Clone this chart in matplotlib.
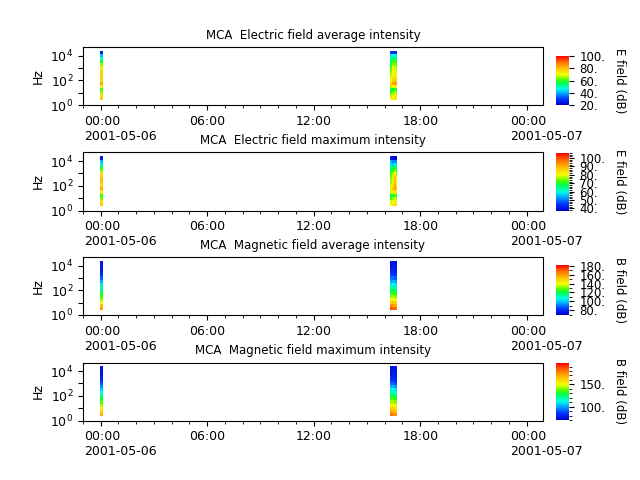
import numpy as np
import matplotlib
matplotlib.use("Agg")
import matplotlib.pyplot as plt
import matplotlib.dates as mdates
from matplotlib.colors import LinearSegmentedColormap
from matplotlib.ticker import FixedLocator, FuncFormatter, MultipleLocator
import matplotlib.transforms as mtransforms
from datetime import datetime

# ---------------- data ----------------
titles = ["MCA  Electric field average intensity",
          "MCA  Electric field maximum intensity",
          "MCA  Magnetic field average intensity",
          "MCA  Magnetic field maximum intensity"]
cb_labels = ["E field (dB)", "E field (dB)", "B field (dB)", "B field (dB)"]
cb_ranges = [(20, 100), (37, 106), (69, 182), (70, 198)]
cb_major = [20, 10, 20, 50]
cb_minor = [None, 2, 10, 10]

# channel centre frequencies (Hz), 16 log-spaced channels
freq_centres = [3.16, 5.62, 10.0, 17.8, 31.6, 56.2, 100.0, 178.0, 316.0, 562.0,
                1000.0, 1780.0, 3160.0, 5620.0, 10000.0, 17800.0]

# time bin edges of the two bursts
burst1_edges = [datetime(2001, 5, 5, 23, 56, 30), datetime(2001, 5, 6, 0, 2),
                datetime(2001, 5, 6, 0, 8)]
burst2_edges = [datetime(2001, 5, 6, 16, 18), datetime(2001, 5, 6, 16, 24, 30),
                datetime(2001, 5, 6, 16, 31), datetime(2001, 5, 6, 16, 37),
                datetime(2001, 5, 6, 16, 43)]

# intensities (dB), rows = channels low->high freq, cols = time bins
e_avg_b1 = [[78, 77], [75, 74], [66, 64], [58, 62], [72, 71], [84, 82], [75, 74],
            [77, 76], [77, 78], [76, 74], [72, 73], [66, 64], [56, 58], [50, 48],
            [42, 40], [25, 27]]
e_avg_b2 = [[70, 72, 74, 72], [66, 70, 72, 70], [60, 64, 66, 64], [56, 58, 60, 58],
            [66, 70, 72, 70], [76, 84, 86, 82], [70, 76, 78, 76], [68, 72, 74, 72],
            [66, 70, 72, 71], [64, 70, 70, 68], [62, 68, 68, 66], [58, 64, 64, 62],
            [54, 60, 60, 58], [50, 54, 55, 52], [44, 48, 46, 44], [30, 28, 26, 28]]
e_max_b1 = [[88, 87], [85, 84], [76, 74], [68, 72], [83, 82], [92, 90], [86, 85],
            [88, 87], [88, 89], [86, 85], [83, 84], [76, 74], [68, 70], [60, 58],
            [56, 54], [40, 42]]
e_max_b2 = [[80, 82, 84, 82], [78, 80, 82, 80], [72, 76, 78, 76], [68, 70, 72, 70],
            [78, 82, 84, 80], [82, 88, 92, 86], [78, 84, 90, 82], [76, 80, 88, 80],
            [76, 80, 88, 80], [74, 78, 86, 78], [72, 76, 80, 76], [68, 72, 74, 72],
            [64, 68, 68, 66], [58, 56, 60, 56], [54, 52, 50, 52], [42, 40, 38, 40]]
b_avg_b1 = [[160, 158], [150, 152], [142, 140], [134, 132], [128, 126], [122, 120],
            [116, 116], [110, 112], [104, 104], [96, 96], [88, 88], [82, 82],
            [78, 78], [76, 76], [76, 76], [76, 76]]
b_avg_b2 = [[172, 170, 168, 166], [162, 160, 158, 156], [150, 152, 150, 148],
            [140, 142, 140, 138], [132, 134, 132, 130], [124, 126, 124, 122],
            [118, 120, 118, 116], [112, 114, 112, 110], [104, 106, 104, 102],
            [96, 98, 96, 94], [90, 90, 88, 88], [84, 84, 82, 82], [80, 80, 78, 78],
            [76, 78, 76, 76], [74, 76, 74, 74], [74, 74, 74, 74]]
b_max_b1 = [[170, 168], [160, 162], [152, 150], [144, 142], [136, 134], [128, 128],
            [122, 120], [114, 114], [106, 106], [98, 98], [90, 90], [84, 84],
            [80, 80], [78, 78], [76, 76], [76, 76]]
b_max_b2 = [[180, 178, 176, 174], [170, 168, 166, 164], [160, 162, 158, 156],
            [150, 152, 148, 146], [142, 144, 140, 138], [134, 136, 132, 130],
            [126, 128, 124, 122], [118, 120, 116, 114], [110, 112, 108, 106],
            [100, 102, 98, 96], [92, 92, 90, 88], [86, 86, 84, 84], [82, 82, 80, 80],
            [78, 80, 78, 78], [76, 78, 76, 76], [76, 76, 76, 76]]
panels = [(e_avg_b1, e_avg_b2), (e_max_b1, e_max_b2),
          (b_avg_b1, b_avg_b2), (b_max_b1, b_max_b2)]

# ---------------- style ----------------
cmap = LinearSegmentedColormap.from_list("spec", [
    (0.00, (0.0, 0.0, 0.8)), (0.12, (0.0, 0.2, 1.0)), (0.25, (0.0, 0.7, 1.0)),
    (0.33, (0.0, 1.0, 0.9)), (0.45, (0.0, 1.0, 0.3)), (0.52, (0.3, 1.0, 0.0)),
    (0.62, (0.95, 1.0, 0.0)), (0.75, (1.0, 0.75, 0.0)), (0.87, (1.0, 0.45, 0.0)),
    (1.00, (1.0, 0.0, 0.0))])

FS = 9
fig = plt.figure(figsize=(6.4, 4.8), dpi=100)
W, H = 640.0, 480.0
ax_tops = [47, 152.5, 257, 362.5]
ax_h = 58
cb_boxes = [(56, 105), (153, 211), (265, 315), (363, 420)]

# frequency edges from centres (quarter-decade spacing)
lc = np.log10(freq_centres)
fedges = 10 ** np.concatenate([[lc[0] - 0.125], (lc[:-1] + lc[1:]) / 2, [lc[-1] + 0.125]])

xmin = datetime(2001, 5, 5, 23, 0)
xmax = datetime(2001, 5, 7, 0, 55)


def fmt(v, p):
    d = mdates.num2date(v)
    s = d.strftime("%H:%M")
    if d.hour == 0:
        s += "\n" + d.strftime("%Y-%m-%d")
    return s


for i in range(4):
    top = ax_tops[i]
    ax = fig.add_axes([83 / W, 1 - (top + ax_h) / H, 460 / W, ax_h / H])
    vmin, vmax = cb_ranges[i]
    b1, b2 = panels[i]
    for edges, vals in ((burst1_edges, b1), (burst2_edges, b2)):
        te = mdates.date2num(edges)
        mesh = ax.pcolormesh(te, fedges, np.array(vals, dtype=float), cmap=cmap,
                             vmin=vmin, vmax=vmax, shading="flat")
    ax.set_yscale("log")
    ax.set_ylim(1, 5e4)
    ax.set_xlim(mdates.date2num(xmin), mdates.date2num(xmax))
    ax.yaxis.set_major_locator(FixedLocator([1, 10, 100, 1000, 10000]))
    ax.yaxis.set_minor_locator(FixedLocator([]))
    ax.yaxis.set_major_formatter(FuncFormatter(
        lambda v, p: r"$10^{%d}$" % round(np.log10(v)) if round(np.log10(v)) % 2 == 0 else ""))
    ax.set_ylabel("Hz", fontsize=FS)
    ax.tick_params(labelsize=FS)
    ax.xaxis.set_major_locator(mdates.HourLocator(byhour=[0, 6, 12, 18]))
    ax.xaxis.set_minor_locator(mdates.HourLocator())
    ax.xaxis.set_major_formatter(FuncFormatter(fmt))
    ax.set_title(titles[i], fontsize=8.5)

    cy0, cy1 = cb_boxes[i]
    cax = fig.add_axes([556 / W, 1 - cy1 / H, 13 / W, (cy1 - cy0) / H])
    cb = fig.colorbar(mesh, cax=cax)
    cb.outline.set_visible(False)
    cb.ax.yaxis.set_major_locator(MultipleLocator(cb_major[i]))
    if cb_minor[i]:
        cb.ax.yaxis.set_minor_locator(MultipleLocator(cb_minor[i]))
    cb.ax.yaxis.set_major_formatter(FuncFormatter(lambda v, p: "%d." % v))
    cb.ax.tick_params(labelsize=8.5, pad=4)
    cb.set_label(cb_labels[i], fontsize=8.5, rotation=270)
    cb.ax.yaxis.set_label_coords(5.4, 0.5)

    fig.canvas.draw()
    for lab in ax.get_xticklabels():
        if "\n" in lab.get_text():
            lab.set_horizontalalignment("left")
            lab.set_transform(lab.get_transform() +
                              mtransforms.ScaledTranslation(-0.17, 0, fig.dpi_scale_trans))

fig.savefig("out.png", dpi=100)
